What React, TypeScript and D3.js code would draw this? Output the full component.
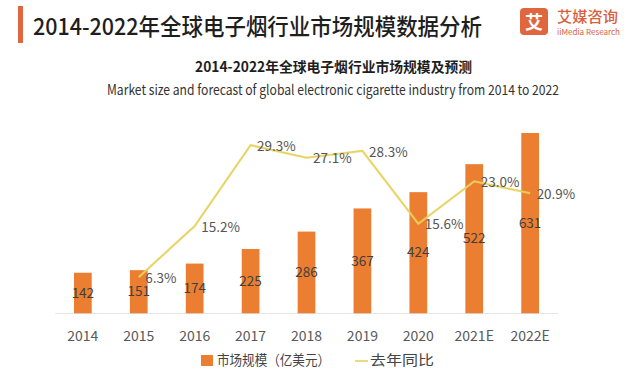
import React from "react";
import * as d3 from "d3";

const categories = ["2014", "2015", "2016", "2017", "2018", "2019", "2020", "2021E", "2022E"];
const marketSize = [142, 151, 174, 225, 286, 367, 424, 522, 631];
const growth: (number | null)[] = [null, 6.3, 15.2, 29.3, 27.1, 28.3, 15.6, 23.0, 20.9];
const growthLabels = ["", "6.3%", "15.2%", "29.3%", "27.1%", "28.3%", "15.6%", "23.0%", "20.9%"];
const legendLabels = ["市场规模（亿美元）", "去年同比"];
const title = "2014-2022年全球电子烟行业市场规模数据分析";
const subtitleCn = "2014-2022年全球电子烟行业市场规模及预测";
const subtitleEn = "Market size and forecast of global electronic cigarette industry from 2014 to 2022";

const W = 632;
const H = 370;
const FONT = "'Noto Sans CJK SC', 'Noto Sans', sans-serif";
const BAR = "#EC7E31";
const LINE = "#E6D25C";

export default function App() {
  const x = d3.scaleBand<string>().domain(categories).range([55, 558]).paddingInner(0.683).paddingOuter(0.34);
  const y = d3.scaleLinear().domain([0, 700]).range([313.3, 113.3]);
  const y2 = d3.scaleLinear().domain([0, 35]).range([313.3, 112.4]);
  const cx = (c: string) => (x(c) ?? 0) + x.bandwidth() / 2;

  const linePts = categories
    .map((c, i) => ({ c, v: growth[i], l: growthLabels[i] }))
    .filter((d) => d.v !== null) as { c: string; v: number; l: string }[];
  const lineGen = d3
    .line<{ c: string; v: number }>()
    .x((d) => cx(d.c))
    .y((d) => y2(d.v));

  return (
    <svg width={W} height={H} style={{ position: "absolute", left: 0, top: 0, background: "#fff" }} fontFamily={FONT}>
      <defs>
        <filter id="glow" x="-10%" y="-10%" width="120%" height="120%">
          <feGaussianBlur stdDeviation="0.7" />
        </filter>
      </defs>
      {/* header */}
      <rect x={18} y={6} width={5} height={37} fill="#E0663F" />
      <text x={33} y={35} fontSize={23} fontWeight={500} fill="#1e1e1e" textLength={449} lengthAdjust="spacingAndGlyphs">
        {title}
      </text>
      {/* logo */}
      <rect x={520} y={8} width={28} height={27} rx={4} fill="#E0663F" />
      <text x={534} y={28.5} fontSize={18} fontWeight={700} fill="#fff" textAnchor="middle">
        艾
      </text>
      <text x={557} y={22} fontSize={14.5} fontWeight={500} fill="#D9603B" textLength={61} lengthAdjust="spacingAndGlyphs">
        艾媒咨询
      </text>
      <text x={557} y={35} fontSize={8} fill="#D9603B" textLength={63} lengthAdjust="spacingAndGlyphs">
        iiMedia Research
      </text>

      {/* subtitles */}
      <text x={333.5} y={71.5} fontSize={14} fontWeight={700} fill="#1e1e1e" textAnchor="middle" textLength={277} lengthAdjust="spacingAndGlyphs">
        {subtitleCn}
      </text>
      <text x={333} y={95} fontSize={14} fill="#333" textAnchor="middle" textLength={452} lengthAdjust="spacingAndGlyphs">
        {subtitleEn}
      </text>

      {/* axis line */}
      <line x1={55} x2={558} y1={313.5} y2={313.5} stroke="#E6E6E6" strokeWidth={1} />

      {/* bars */}
      {categories.map((c, i) => (
        <rect key={c} x={x(c)} y={y(marketSize[i])} width={x.bandwidth()} height={y(0) - y(marketSize[i])} fill={BAR} />
      ))}

      {/* line */}
      <path d={lineGen(linePts) ?? ""} fill="none" stroke={LINE} strokeWidth={2.6} opacity={0.45} filter="url(#glow)" />
      <path d={lineGen(linePts) ?? ""} fill="none" stroke={LINE} strokeWidth={1.5} />

      {/* bar labels */}
      {categories.map((c, i) => (
        <text
          key={"b" + c}
          x={cx(c)}
          y={(y(marketSize[i]) + y(0)) / 2}
          dy="0.35em"
          fontSize={13.5}
          fill="#3f3f3f"
          textAnchor="middle"
        >
          {marketSize[i]}
        </text>
      ))}

      {/* growth labels */}
      {linePts.map((d) => (
        <text key={"g" + d.c} x={cx(d.c) + 6.5} y={y2(d.v) + 1} dy="0.35em" fontSize={13.5} fill="#555">
          {d.l}
        </text>
      ))}

      {/* x tick labels */}
      {categories.map((c) => (
        <text key={"t" + c} x={cx(c)} y={336} dy="0.35em" fontSize={14} fill="#595959" textAnchor="middle">
          {c}
        </text>
      ))}

      {/* legend */}
      <rect x={201} y={355} width={12} height={11} fill={BAR} />
      <text x={217} y={360.5} dy="0.35em" fontSize={14} fill="#444" textLength={113} lengthAdjust="spacingAndGlyphs">
        {legendLabels[0]}
      </text>
      <line x1={355} x2={368} y1={361} y2={361} stroke={LINE} strokeWidth={1.6} />
      <text x={370} y={360.5} dy="0.35em" fontSize={14} fill="#444" textLength={64} lengthAdjust="spacingAndGlyphs">
        {legendLabels[1]}
      </text>
    </svg>
  );
}
